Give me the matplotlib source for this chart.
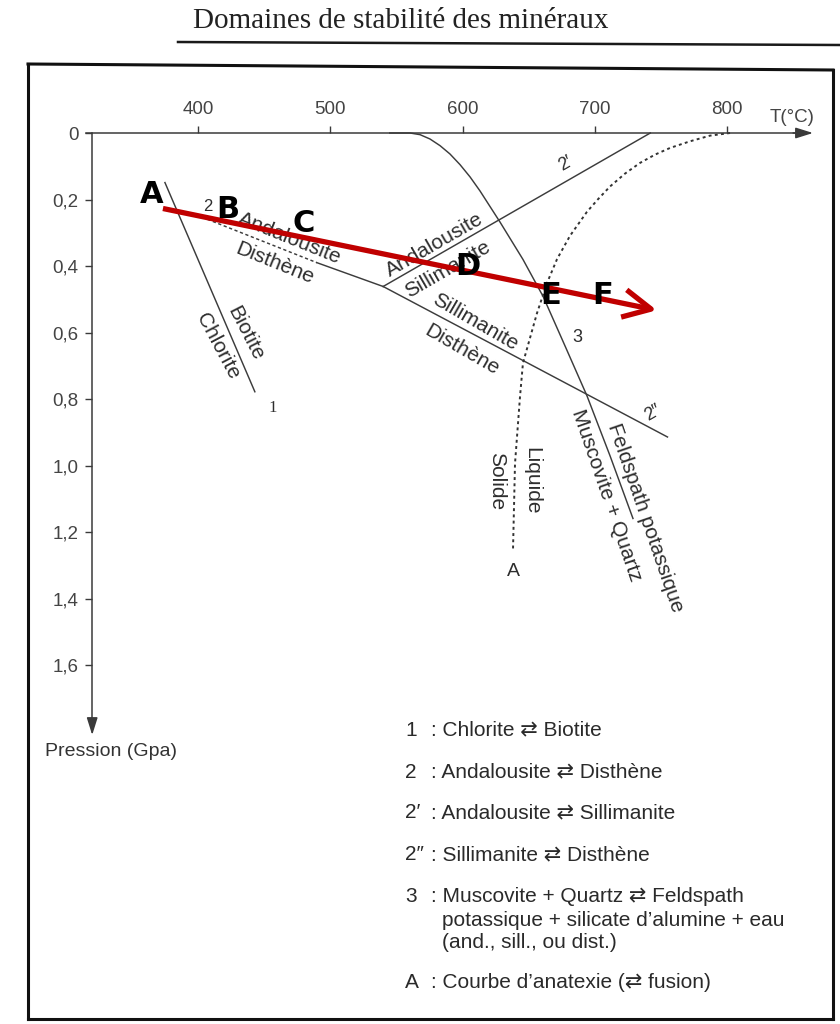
import matplotlib
matplotlib.use("Agg")
import matplotlib.pyplot as plt
from matplotlib.lines import Line2D

plt.rcParams["font.family"] = ["Liberation Sans", "DejaVu Sans"]

# ---- axes ticks -------------------------------------------------------------
temperature_ticks = [400, 500, 600, 700, 800]
temperature_tick_labels = ["400", "500", "600", "700", "800"]
pressure_ticks = [0.0, 0.2, 0.4, 0.6, 0.8, 1.0, 1.2, 1.4, 1.6]
pressure_tick_labels = ["0", "0,2", "0,4", "0,6", "0,8", "1,0", "1,2", "1,4", "1,6"]

# ---- reaction curves (T in °C, P in GPa) -----------------------------------
# 1 : Chlorite <-> Biotite
chl_bio_T = [375, 443]
chl_bio_P = [0.149, 0.778]
# 2 : Andalousite <-> Disthène (dashed at low T, solid up to the triple point)
and_ky_T = [403, 490, 540]
and_ky_P = [0.253, 0.390, 0.4615]
# 2' : Andalousite <-> Sillimanite
and_sil_T = [540, 742]
and_sil_P = [0.4615, 0.0]
# 2'' : Sillimanite <-> Disthène
sil_ky_T = [540, 755]
sil_ky_P = [0.4615, 0.914]
# 3 : Muscovite + Quartz <-> Feldspath potassique
musc_T = [545, 560.3, 567.9, 575.4, 583.0, 590.5, 598.1, 605.7, 613.2, 620.8, 628.4,
          645.7, 660.9, 677.5, 694.1, 711.5, 728.9]
musc_P = [0.0, 0.0, 0.005, 0.018, 0.038, 0.063, 0.095, 0.132, 0.174, 0.221, 0.268,
          0.380, 0.491, 0.640, 0.790, 0.970, 1.159]
# A : courbe d'anatexie
anat_T = [802.3, 787.1, 772.0, 756.9, 745.6, 734.2, 722.9, 711.5, 702.5, 694.1,
          681.3, 671.5, 663.9, 656.3, 645.7, 643.5, 639.7, 638.2]
anat_P = [0.0, 0.008, 0.025, 0.045, 0.065, 0.090, 0.122, 0.161, 0.199, 0.237,
          0.309, 0.379, 0.451, 0.542, 0.692, 0.792, 0.994, 1.252]

# ---- metamorphic path ------------------------------------------------------
path_T = [373.5, 747]
path_P = [0.227, 0.533]
path_letters = ["A", "B", "C", "D", "E", "F"]
letter_T = [365.2, 422.7, 480.2, 604.2, 666.9, 706.2]
letter_P = [0.185, 0.231, 0.271, 0.402, 0.490, 0.489]

# ---- legend ----------------------------------------------------------------
legend_keys = ["1", "2", "2\u2032", "2\u2033", "3", "", "", "A"]
legend_texts = [
    ": Chlorite \u21c4 Biotite",
    ": Andalousite \u21c4 Disthène",
    ": Andalousite \u21c4 Sillimanite",
    ": Sillimanite \u21c4 Disthène",
    ": Muscovite + Quartz \u21c4 Feldspath",
    "potassique + silicate d\u2019alumine + eau",
    "(and., sill., ou dist.)",
    ": Courbe d\u2019anatexie (\u21c4 fusion)",
]

W, H = 840, 1024
fig = plt.figure(figsize=(W / 100, H / 100), dpi=100)

# pixel geometry of the data frame
X400, SX = 198.0, 1.3225      # px of 400 °C, px per °C
Y0, SY = 133.0, 332.6         # px of P = 0, px per GPa
T_MIN, T_MAX = 250.0, 880.0
P_MIN, P_MAX = -0.4, 2.0
xl = X400 + (T_MIN - 400) * SX
xr = X400 + (T_MAX - 400) * SX
yt = Y0 + P_MIN * SY
yb = Y0 + P_MAX * SY
ax = fig.add_axes([xl / W, 1 - yb / H, (xr - xl) / W, (yb - yt) / H])
ax.set_xlim(T_MIN, T_MAX)
ax.set_ylim(P_MAX, P_MIN)
ax.patch.set_alpha(0)

def fpx(x, y):
    return (x / W, 1 - y / H)

axis_col = "#3a3a3a"
line_col = "#3c3c3c"
txt_col = "#2e2e2e"

# axes as spines through the origin
ax.spines["bottom"].set_visible(False)
ax.spines["right"].set_visible(False)
ax.spines["top"].set_position(("data", 0.0))
ax.spines["left"].set_position(("data", 320.0))
ax.spines["top"].set_bounds(315.3, 858)
ax.spines["left"].set_bounds(0.0, 1.79)
for s in ("top", "left"):
    ax.spines[s].set_color(axis_col)
    ax.spines[s].set_linewidth(1.1)

ax.xaxis.set_ticks_position("top")
ax.set_xticks(temperature_ticks)
ax.set_xticklabels(temperature_tick_labels)
ax.set_yticks(pressure_ticks)
ax.set_yticklabels(pressure_tick_labels)
ax.tick_params(axis="x", direction="out", length=5, width=1.0, color=axis_col,
               pad=6, labelsize=13.5, labelcolor="#444444")
ax.tick_params(axis="y", direction="out", length=5, width=1.0, color=axis_col,
               pad=5, labelsize=13.5, labelcolor="#444444")

# arrow heads of the axes
ax.annotate("", xy=(865, 0.0), xytext=(850, 0.0),
            arrowprops=dict(arrowstyle="-|>,head_length=0.7,head_width=0.22",
                            color=axis_col, lw=1.1, shrinkA=0, shrinkB=0,
                            mutation_scale=15))
ax.annotate("", xy=(320, 1.81), xytext=(320, 1.76),
            arrowprops=dict(arrowstyle="-|>,head_length=0.7,head_width=0.22",
                            color=axis_col, lw=1.1, shrinkA=0, shrinkB=0,
                            mutation_scale=15))

fig.text(*fpx(792, 117), "T(°C)", ha="center", va="center", fontsize=13.5, color="#444444")
fig.text(*fpx(45, 752), "Pression (Gpa)", ha="left", va="center", fontsize=14, color="#333333")

# reaction curves
lw = 1.05
ax.plot(chl_bio_T, chl_bio_P, color=line_col, lw=lw)
ax.plot(and_ky_T[:2], and_ky_P[:2], color=line_col, lw=lw, ls=(0, (2.2, 1.8)))
ax.plot(and_ky_T[1:], and_ky_P[1:], color=line_col, lw=lw)
ax.plot(and_sil_T, and_sil_P, color=line_col, lw=lw)
ax.plot(sil_ky_T, sil_ky_P, color=line_col, lw=lw)
ax.plot(musc_T, musc_P, color=line_col, lw=lw, solid_joinstyle="round")
ax.plot(anat_T, anat_P, color="#333333", lw=1.4, ls=(0, (1.5, 1.7)))

# curve labels
lab = dict(color=txt_col, ha="center", va="center", rotation_mode="anchor")
ax.text(407.6, 0.220, "2", fontsize=12, **lab)
ax.text(469.6, 0.317, "Andalousite", fontsize=15, rotation=-22, **lab)
ax.text(458.3, 0.392, "Disthène", fontsize=15, rotation=-22, **lab)
ax.text(435.5, 0.603, "Biotite", fontsize=15, rotation=-63, **lab)
ax.text(415.1, 0.640, "Chlorite", fontsize=15, rotation=-62, **lab)
ax.text(456.7, 0.828, "1", fontsize=12, family="Liberation Serif", **lab)
ax.text(579.2, 0.337, "Andalousite", fontsize=15, rotation=30, **lab)
ax.text(589.0, 0.409, "Sillimanite", fontsize=15, rotation=30, **lab)
ax.text(678.3, 0.093, "2\u2032", fontsize=13, rotation=30, **lab)
ax.text(609.4, 0.570, "Sillimanite", fontsize=15, rotation=-30, **lab)
ax.text(599.6, 0.652, "Disthène", fontsize=15, rotation=-30, **lab)
ax.text(744.0, 0.842, "2\u2033", fontsize=13, rotation=30, **lab)
ax.text(686.6, 0.616, "3", fontsize=13, **lab)
ax.text(708.5, 1.090, "Muscovite + Quartz", fontsize=15, rotation=-71, **lab)
ax.text(738.0, 1.158, "Feldspath potassique", fontsize=15, rotation=-71, **lab)
ax.text(652.6, 1.045, "Liquide", fontsize=15, rotation=-90, **lab)
ax.text(626.1, 1.045, "Solide", fontsize=15, rotation=-90, **lab)
ax.text(638.2, 1.318, "A", fontsize=14, **lab)

# metamorphic path arrow
ax.annotate("", xy=(path_T[1], path_P[1]), xytext=(path_T[0], path_P[0]),
            arrowprops=dict(arrowstyle="->,head_length=1.0,head_width=0.5",
                            color="#c00000", lw=3.8, shrinkA=0, shrinkB=0,
                            mutation_scale=20, capstyle="butt"))
for name, t, p in zip(path_letters, letter_T, letter_P):
    ax.text(t, p, name, fontsize=22, fontweight="bold", family="DejaVu Sans",
            color="black", ha="center", va="center")

# title, underline and frame
fig.text(*fpx(401, 21), "Domaines de stabilité des minéraux", ha="center", va="center",
         fontsize=21, family="Liberation Serif", color="#222222")
fig.add_artist(Line2D([178 / W, 840 / W], [1 - 42 / H, 1 - 45 / H],
                      transform=fig.transFigure, color="#1a1a1a", lw=1.8))
frame = [((28, 64), (833, 70)), ((28, 64), (28, 1019)),
         ((28, 1019), (833, 1019)), ((833, 70), (833, 1019))]
for (x0, y0), (x1, y1) in frame:
    fig.add_artist(Line2D([x0 / W, x1 / W], [1 - y0 / H, 1 - y1 / H],
                          transform=fig.transFigure, color="#111111", lw=2.2))

# legend
legend_y = [730, 772, 813, 855, 897, 920, 943, 983]
for key, text, y in zip(legend_keys, legend_texts, legend_y):
    if key:
        fig.text(*fpx(405, y), key, ha="left", va="center", fontsize=15, color="#2a2a2a")
        fig.text(*fpx(431, y), text, ha="left", va="center", fontsize=15, color="#2a2a2a")
    else:
        fig.text(*fpx(442, y), text, ha="left", va="center", fontsize=15, color="#2a2a2a")

fig.savefig("out.png", dpi=100)
